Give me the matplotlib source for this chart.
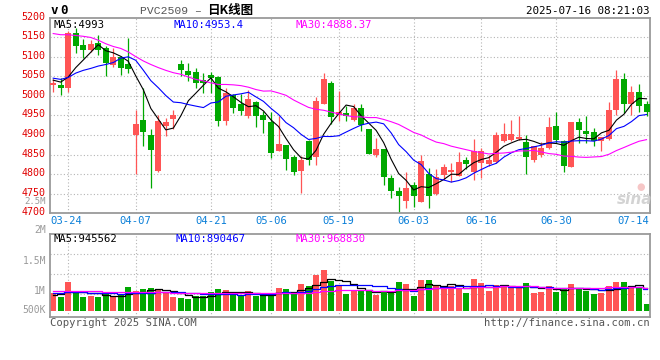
import matplotlib
matplotlib.use('Agg')
import matplotlib.pyplot as plt
import matplotlib.transforms as mtransforms
import numpy as np
import pandas as pd
from matplotlib.transforms import blended_transform_factory

# ---------------- data ----------------
holidays = ['2025-04-04', '2025-05-01', '2025-05-02', '2025-05-05', '2025-06-02']
dates = [d.strftime('%m-%d') for d in pd.bdate_range('2025-03-20', '2025-07-16')
         if d.strftime('%Y-%m-%d') not in holidays]

opens = [5027, 5027, 5020, 5161, 5129, 5117, 5134, 5123, 5079, 5100,
         5080, 4899, 4937, 4901, 4807, 4922, 4942, 5080, 5063, 5061,
         5040, 5052, 5048, 4935, 5001, 4978, 4948, 4985, 4950, 4932,
         4859, 4874, 4843, 4809, 4885, 4843, 4980, 5033, 4950, 4955,
         4937, 4969, 4915, 4850, 4863, 4790, 4757, 4732, 4773, 4730,
         4800, 4749, 4797, 4805, 4796, 4835, 4806, 4828, 4826, 4830,
         4885, 4888, 4890, 4881, 4835, 4850, 4867, 4922, 4885, 4817,
         4934, 4909, 4907, 4884, 4890, 4963, 5042, 4978, 5010, 4980]
highs = [5042, 5046, 5166, 5173, 5144, 5142, 5155, 5126, 5123, 5102,
         5147, 4963, 5019, 4916, 4952, 4944, 4965, 5091, 5083, 5072,
         5059, 5061, 5051, 5019, 5004, 5004, 5014, 4988, 4962, 4959,
         4948, 4874, 4848, 4846, 4888, 4996, 5058, 5039, 5012, 4975,
         4978, 4979, 4915, 4892, 4863, 4798, 4768, 4805, 4779, 4850,
         4815, 4814, 4826, 4828, 4857, 4845, 4891, 4868, 4850, 4908,
         4931, 4939, 4948, 4899, 4873, 4881, 4945, 4958, 4888, 4932,
         4944, 4948, 4918, 4896, 4985, 5065, 5059, 5026, 5029, 4988]
lows = [5010, 5003, 5010, 5110, 5097, 5113, 5104, 5050, 5074, 5053,
        5059, 4800, 4873, 4764, 4805, 4897, 4916, 5050, 5038, 5020,
        5006, 5006, 4924, 4926, 4955, 4952, 4944, 4920, 4905, 4842,
        4858, 4811, 4798, 4753, 4824, 4824, 4978, 4929, 4935, 4935,
        4935, 4911, 4851, 4845, 4773, 4740, 4697, 4713, 4717, 4728,
        4713, 4747, 4784, 4779, 4794, 4814, 4784, 4791, 4820, 4828,
        4882, 4885, 4888, 4800, 4830, 4843, 4865, 4879, 4805, 4817,
        4880, 4880, 4871, 4860, 4888, 4952, 4955, 4950, 4958, 4948]
closes = [5033, 5020, 5160, 5127, 5117, 5132, 5117, 5083, 5100, 5072,
          5069, 4929, 4908, 4861, 4935, 4932, 4952, 5066, 5053, 5032,
          5032, 5046, 4935, 5006, 4968, 4961, 4991, 4948, 4939, 4854,
          4876, 4838, 4805, 4837, 4836, 4988, 5042, 4945, 4959, 4948,
          4969, 4925, 4852, 4865, 4792, 4756, 4743, 4764, 4743, 4834,
          4745, 4792, 4817, 4811, 4832, 4826, 4860, 4858, 4835, 4900,
          4903, 4903, 4896, 4843, 4873, 4867, 4920, 4888, 4820, 4932,
          4912, 4903, 4884, 4896, 4965, 5042, 4978, 5010, 4973, 4959]
volumes = [740000, 570000, 1190000, 740000, 570000, 630000, 570000, 710000, 560000, 670000,
           990000, 830000, 900000, 940000, 875000, 760000, 570000, 530000, 470000, 625000,
           625000, 780000, 900000, 875000, 670000, 625000, 810000, 625000, 625000, 625000,
           940000, 900000, 740000, 1110000, 1030000, 1490000, 1690000, 1250000, 1010000, 690000,
           860000, 860000, 860000, 650000, 820000, 720000, 1190000, 1110000, 610000, 1280000,
           1280000, 1060000, 1000000, 1010000, 940000, 740000, 1320000, 1150000, 820000, 1070000,
           1000000, 1030000, 970000, 1150000, 740000, 780000, 1030000, 780000, 940000, 1110000,
           940000, 820000, 690000, 740000, 1030000, 1190000, 1190000, 1030000, 990000, 280000]

ma5_head = [5040, 5035, 5048, 5072]
ma10_head = [5045, 5042, 5047, 5058, 5065, 5070, 5076, 5080, 5085]
ma30_head = [5159, 5156, 5156, 5154, 5152, 5149, 5142, 5133, 5126, 5121,
             5112, 5100, 5089, 5080, 5072, 5065, 5059, 5055, 5048, 5042,
             5038, 5033, 5029, 5029, 5028, 5026, 5022, 5016, 5012]
vma5_head = [670000, 680000, 800000, 800000]
vma10_head = [720000, 720000, 760000, 760000, 760000, 750000, 740000, 740000, 730000]
vma30_head = [810000, 820000, 830000, 830000, 830000, 820000, 810000, 800000, 800000, 790000,
              780000, 780000, 770000, 770000, 760000, 760000, 750000, 740000, 730000, 720000,
              720000, 720000, 720000, 720000, 720000, 720000, 720000, 720000, 720000]

tick_labels = ['03-24', '04-07', '04-21', '05-06', '05-19', '06-03', '06-16', '06-30', '07-14']

title_code = 'PVC2509 \u2013'
title_cn = '日K线图'
stamp = '2025-07-16 08:21:03'
price_legend = ['MA5:4993', 'MA10:4953.4', 'MA30:4888.37']
vol_legend = ['MA5:945562', 'MA10:890467', 'MA30:968830']
vol_axis_labels = ['2.5M', '2M', '1.5M', '1M', '500K']

# ---------------- helpers ----------------
W, H = 660, 360
RED = '#ff5555'
GREEN = '#00a800'
GRID = '#b4b4b4'
BORDER = '#9a9a9a'
MONO = 'DejaVu Sans Mono'


def ma(series, n, head):
    s = pd.Series(series, dtype=float).rolling(n).mean().to_numpy()
    s[:len(head)] = head
    return s


def px(x, y):
    return x / W, 1 - y / H


n = len(closes)
x = np.arange(n)
o = np.array(opens, float)
c = np.array(closes, float)
hi = np.array(highs, float)
lo = np.array(lows, float)
v = np.array(volumes, float)
up = c >= o
cols = [RED if u else GREEN for u in up]

fig = plt.figure(figsize=(6.6, 3.6), dpi=100)
fig.patch.set_facecolor('white')

L, R = 50, 649.5
mt, mb = 17.5, 213.3
vt, vb = 234.0, 317.3
ax = fig.add_axes([L / W, 1 - mb / H, (R - L) / W, (mb - mt) / H])
vax = fig.add_axes([L / W, 1 - vb / H, (R - L) / W, (vb - vt) / H])

# x mapping: first candle centre at ~53.2 px, last at ~646.5 px
step = (646.5 - 53.2) / (n - 1)
xlo = -(53.2 - L) / step
xhi = (n - 1) + (R - 646.5) / step
for a in (ax, vax):
    a.set_xlim(xlo, xhi)
    a.set_xticks([])
    for sp in a.spines.values():
        sp.set_color(BORDER)
        sp.set_linewidth(1.3)
    a.set_facecolor('white')

# ---------- price panel ----------
ax.set_ylim(4700, 5200)
for yv in range(4750, 5200, 50):
    ax.axhline(yv, color=GRID, lw=0.8, ls=(0, (1, 2)), zorder=0)
tick_pos = [dates.index(t) for t in tick_labels]
for p in tick_pos[:-1]:
    ax.axvline(p, color=GRID, lw=0.8, ls=(0, (1, 2)), zorder=0)
    vax.axvline(p, color=GRID, lw=0.8, ls=(0, (1, 2)), zorder=0)

bw = 6.0 / step
ax.vlines(x, lo, hi, colors=cols, lw=0.9, zorder=2)
body_lo = np.minimum(o, c)
body_h = np.maximum(np.abs(c - o), 2.0)
ax.bar(x, body_h, bottom=body_lo, width=bw, color=cols, edgecolor='none', zorder=3)

ax.plot(x, ma(closes, 5, ma5_head), color='black', lw=0.8, zorder=4)
ax.plot(x, ma(closes, 10, ma10_head), color='#0000ff', lw=0.8, zorder=4)
ax.plot(x, ma(closes, 30, ma30_head), color='#ff00ff', lw=0.8, zorder=4)

ax.set_yticks(range(4700, 5201, 50))
ax.set_yticklabels([str(t) for t in range(4700, 5201, 50)], color='#e00000',
                   fontsize=7.2, family=MONO)
ax.tick_params(axis='y', length=0, pad=3.5)
lift = mtransforms.ScaledTranslation(0, 2.0 / 100, fig.dpi_scale_trans)
for lab in ax.get_yticklabels():
    lab.set_transform(lab.get_transform() + lift)

# date labels
trans = blended_transform_factory(ax.transData, fig.transFigure)
for i, (p, lab) in enumerate(zip(tick_pos, tick_labels)):
    if i == 0:
        fig.text(*px(L + 0.5, 221), lab, ha='left', va='center', color='#0a7fd8',
                 fontsize=7.6, family=MONO)
    elif i == len(tick_labels) - 1:
        fig.text(*px(R, 221), lab, ha='right', va='center', color='#0a7fd8',
                 fontsize=7.6, family=MONO)
    else:
        fig.text(p, 1 - 221 / H, lab, ha='center', va='center', color='#0a7fd8',
                 fontsize=7.6, family=MONO, transform=trans)

# legend texts
for s, xx, colr in zip(price_legend, [54, 174, 295], ['black', '#0000ff', '#ff00ff']):
    fig.text(*px(xx, 24.5), s, ha='left', va='center', color=colr, fontsize=7.6, family=MONO)
for s, xx, colr in zip(vol_legend, [54, 175, 295], ['black', '#0000ff', '#ff00ff']):
    fig.text(*px(xx, 239.5), s, ha='left', va='center', color=colr, fontsize=7.6, family=MONO)

# ---------- volume panel ----------
px_per_unit = 24.0 / 1e6
zero_px = 310.7
vhi = (zero_px - vt) / px_per_unit
vlo = -(vb - zero_px) / px_per_unit
vax.set_ylim(vlo, vhi)
vax.set_yticks([])
for gy in (253.7, 273.7, 293.7):
    vax.axhline((zero_px - gy) / px_per_unit, color=GRID, lw=0.8, ls=(0, (1, 2)), zorder=0)
vax.bar(x, v, width=bw, color=cols, edgecolor='none', zorder=2)
vax.plot(x, ma(volumes, 5, vma5_head), color='black', lw=0.9, drawstyle='steps-mid', zorder=3)
vax.plot(x, ma(volumes, 10, vma10_head), color='#0000ff', lw=0.9, drawstyle='steps-mid', zorder=3)
vax.plot(x, ma(volumes, 30, vma30_head), color='#ff00ff', lw=0.9, drawstyle='steps-mid', zorder=3)

for s, yy, fs in zip(vol_axis_labels, [201.7, 230.3, 260.7, 290.5, 310.0],
                     [6.5, 7.0, 7.0, 7.0, 7.0]):
    fig.text(*px(46, yy), s, ha='right', va='center', color='#9a9a9a', fontsize=fs, family=MONO)

# ---------- header / footer ----------
fig.text(*px(51, 11), 'v', ha='left', va='center', color='black', fontsize=9,
         family=MONO, weight='bold')
fig.text(*px(60, 11), '0', ha='left', va='center', color='black', fontsize=9,
         family=MONO, weight='bold')
fig.text(*px(140, 10.5), title_code, ha='left', va='center', color='#555555',
         fontsize=8.2, family=['Liberation Mono', 'DejaVu Sans Mono'])
fig.text(*px(207, 10.5), title_cn, ha='left', va='center', color='black',
         fontsize=9, family=['Noto Sans CJK SC', 'DejaVu Sans'], weight='bold')
fig.text(*px(649.5, 11.5), stamp, ha='right', va='center', color='black',
         fontsize=7.8, family=MONO)
fig.text(*px(50, 323.5), 'Copyright 2025 SINA.COM', ha='left', va='center',
         color='#555555', fontsize=7.6, family=MONO)
fig.text(*px(649.5, 323.5), 'http://finance.sina.com.cn', ha='right', va='center',
         color='#555555', fontsize=7.6, family=MONO)
fig.text(*px(635, 199), 'sina', ha='center', va='center', color='#cfcfcf',
         fontsize=11, family='DejaVu Sans', weight='bold', style='italic', alpha=0.9)
fig.text(*px(641, 187), '\u25cf', ha='center', va='center', color='#f4b8b8',
         fontsize=7, family='DejaVu Sans', alpha=0.8)

fig.savefig('out.png', dpi=100, facecolor='white')
